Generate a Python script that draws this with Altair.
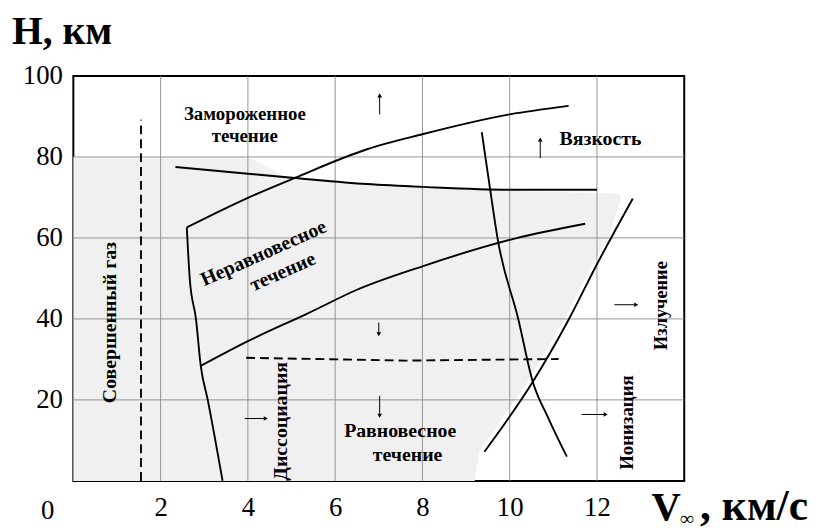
import altair as alt
import pandas as pd

# ---------------- data ----------------
x_ticks = [2, 4, 6, 8, 10, 12]
y_ticks = [20, 40, 60, 80, 100]
grid_x = [2, 4, 6, 8, 10, 12]
grid_h = [20, 40, 60, 80]

# solid boundary curves
upper_x = [2.6, 4.0, 5.07, 6.73, 8.0, 10.0, 11.35]
upper_h = [62.6, 69.9, 74.8, 81.9, 85.6, 90.5, 92.6]
desc_x = [2.34, 5.07, 6.73, 8.0, 10.0, 12.0]
desc_h = [77.5, 74.8, 73.3, 72.6, 71.9, 71.9]
left_x = [2.6, 2.67, 2.81, 2.92, 3.08, 3.42]
left_h = [62.6, 49.6, 40.0, 28.4, 20.0, 0.0]
mid_x = [2.92, 4.0, 5.4, 6.5, 8.0, 10.14, 11.73]
mid_h = [28.4, 34.5, 41.5, 47.2, 53.0, 59.9, 63.5]
steep_x = [9.36, 9.55, 9.72, 10.2, 10.52, 10.89, 11.31]
steep_h = [86.1, 72.1, 60.0, 39.8, 24.8, 15.4, 6.0]
rise_x = [9.42, 10.52, 11.35, 12.0, 12.82]
rise_h = [7.2, 24.3, 39.8, 53.5, 69.7]

# dashed lines
dv_x = [1.55, 1.55]
dv_h = [0.0, 89.2]
dh_x = [3.96, 7.6, 11.12]
dh_h = [30.4, 29.7, 30.1]

# shaded (stippled) region: right boundary as a function of H
reg_h = [0, 7.2, 24.3, 39.8, 53.5, 59.9, 69.7, 71.0, 71.6, 72.3, 73.3, 75.0, 80.0]
reg_x = [9.2, 9.3, 10.4, 11.25, 11.9, 12.25, 12.55, 12.5, 10.0, 8.0, 6.7, 4.9, 4.0]

# arrows
arr_x = [7.02, 10.7, 7.0, 7.02, 12.4, 11.65, 3.93]
arr_h = [90.5, 79.7, 39.1, 21.0, 43.5, 16.4, 15.4]
arr_x2 = [7.02, 10.7, 7.0, 7.02, 12.9, 12.2, 4.41]
arr_h2 = [95.2, 84.3, 36.2, 16.1, 43.5, 16.4, 15.4]
arr_shape = ["triangle-up", "triangle-up", "triangle-down", "triangle-down",
             "triangle-right", "triangle-right", "triangle-right"]

# region labels
lab_text = ["Замороженное", "течение", "Вязкость", "Равновесное", "течение",
            "Неравновесное", "течение",
            "Совершенный газ", "Диссоциация", "Излучение", "Ионизация"]
lab_x = [3.93, 3.93, 12.08, 7.49, 7.66, 4.36, 4.8, 0.84, 4.77, 13.48, 12.7]
lab_h = [90.5, 85.1, 84.4, 12.2, 6.4, 56.2, 51.6, 39.1, 14.7, 43.3, 14.4]
lab_angle = [0, 0, 0, 0, 0, 336, 336, 270, 270, 270, 270]
lab_size = [19, 19, 20, 20, 20, 20, 20, 20, 20, 18.5, 19]

# ---------------- build tables ----------------
def curve(name, xs, hs):
    return [{"curve": name, "i": i, "x": a, "h": b} for i, (a, b) in enumerate(zip(xs, hs))]

solid = pd.DataFrame(curve("upper", upper_x, upper_h) + curve("desc", desc_x, desc_h)
                     + curve("left", left_x, left_h) + curve("mid", mid_x, mid_h)
                     + curve("steep", steep_x, steep_h) + curve("rise", rise_x, rise_h))
dashed = pd.DataFrame(curve("dv", dv_x, dv_h) + curve("dh", dh_x, dh_h))
region = pd.DataFrame({"x": reg_x, "h": reg_h, "x0": [0.0] * len(reg_h)})
arrows = pd.DataFrame({"x": arr_x, "h": arr_h, "x2": arr_x2, "h2": arr_h2, "shape": arr_shape})
labels = pd.DataFrame({"t": lab_text, "x": lab_x, "h": lab_h, "a": lab_angle, "s": lab_size})
gx = pd.DataFrame({"x": grid_x})
gy = pd.DataFrame({"h": grid_h})

SERIF = "Liberation Serif"
xscale = alt.Scale(domain=[0, 14], nice=False, zero=False)
yscale = alt.Scale(domain=[0, 100], nice=False, zero=False)
xaxis = alt.Axis(values=x_ticks, grid=False, ticks=False, domain=False, title=None,
                 labelFont=SERIF, labelFontSize=27, labelColor="black",
                 labelPadding=14, labelFlush=False)
yaxis = alt.Axis(values=y_ticks, grid=False, ticks=False, domain=False, title=None,
                 labelFont=SERIF, labelFontSize=27, labelColor="black",
                 labelPadding=11, labelFlush=False)


def X(f):
    return alt.X(f"{f}:Q", scale=xscale, axis=xaxis)


def Y(f):
    return alt.Y(f"{f}:Q", scale=yscale, axis=yaxis)


area = alt.Chart(region).mark_area(orient="horizontal", color="#f0f0f0").encode(
    y=Y("h"), x=X("x"), x2="x0:Q"
)
vgrid = alt.Chart(gx).mark_rule(color="#8a8a8a", strokeWidth=0.9).encode(x=X("x"))
hgrid = alt.Chart(gy).mark_rule(color="#8a8a8a", strokeWidth=0.9).encode(y=Y("h"))

lines = alt.Chart(solid).mark_line(color="black", strokeWidth=1.9, interpolate="monotone").encode(
    x=X("x"), y=Y("h"), detail="curve:N", order="i:Q"
)
dlines = alt.Chart(dashed).mark_line(color="black", strokeWidth=1.9, strokeDash=[9, 5]).encode(
    x=X("x"), y=Y("h"), detail="curve:N", order="i:Q"
)

arr_rule = alt.Chart(arrows).mark_rule(color="black", strokeWidth=1).encode(
    x=X("x"), y=Y("h"), x2="x2:Q", y2="h2:Q"
)
arr_head = alt.Chart(arrows).mark_point(filled=True, color="black", size=22, opacity=1).encode(
    x=X("x2"), y=Y("h2"), shape=alt.Shape("shape:N", scale=None)
)

texts = alt.Chart(labels).mark_text(font=SERIF, fontWeight="bold",
                                    color="black", align="center", baseline="middle").encode(
    x=X("x"), y=Y("h"), text="t:N", angle=alt.Angle("a:Q", scale=None),
    size=alt.Size("s:Q", scale=None)
)

# axis decorations (corner zero, axis titles)
zero_lbl = alt.Chart(pd.DataFrame({"t": ["0"]})).mark_text(
    font=SERIF, fontSize=27, color="black", align="center", baseline="middle"
).encode(text="t:N", x=alt.value(-26), y=alt.value(439))

h_title = alt.Chart(pd.DataFrame({"t": ["H, км"]})).mark_text(
    font=SERIF, fontSize=40, fontWeight="bold", color="black", align="left", baseline="alphabetic"
).encode(text="t:N", x=alt.value(-62), y=alt.value(-32))

v_title = alt.Chart(pd.DataFrame({"t": ["V"]})).mark_text(
    font=SERIF, fontSize=41, fontWeight="bold", color="black", align="left", baseline="alphabetic"
).encode(text="t:N", x=alt.value(584), y=alt.value(448))

inf_sub = alt.Chart(pd.DataFrame({"t": ["∞"]})).mark_text(
    font=SERIF, fontSize=20, fontWeight="bold", color="black", align="left", baseline="middle"
).encode(text="t:N", x=alt.value(613), y=alt.value(448))

unit_title = alt.Chart(pd.DataFrame({"t": [", км/с"]})).mark_text(
    font=SERIF, fontSize=44, fontWeight="bold", color="black", align="left", baseline="alphabetic"
).encode(text="t:N", x=alt.value(633), y=alt.value(448))

chart = alt.layer(
    area, vgrid, hgrid, lines, dlines, arr_rule, arr_head, texts,
    zero_lbl, h_title, v_title, inf_sub, unit_title
).properties(
    width=617, height=409,
    padding={"left": 66, "top": 66, "right": 125, "bottom": 49},
    autosize=alt.AutoSizeParams(type="none"),
    background="white",
).configure_view(stroke="black", strokeWidth=2).configure_axis(
    labelFont=SERIF, labelFontSize=27, labelColor="black"
)

chart.save("out.html", embed_options={"renderer": "svg", "actions": False})
